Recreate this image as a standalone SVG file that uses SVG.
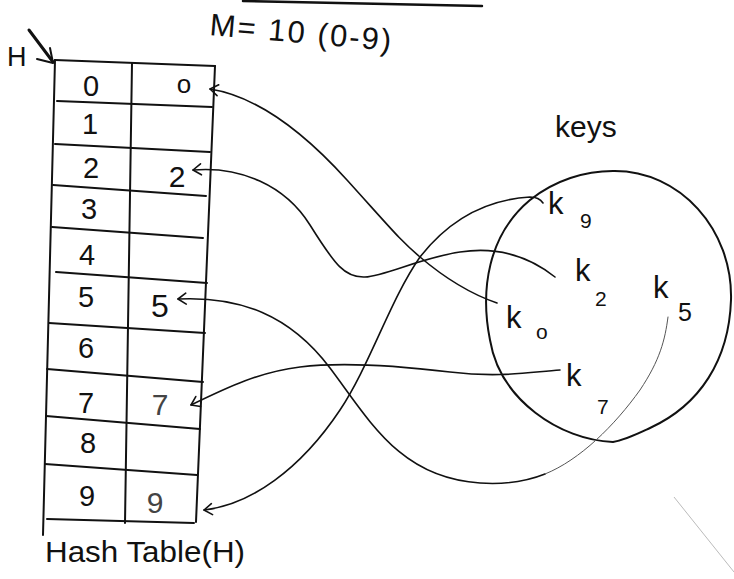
<svg xmlns="http://www.w3.org/2000/svg" width="734" height="579" viewBox="0 0 734 579">
<style>
  .ink { fill: none; stroke: #111; stroke-linecap: round; stroke-linejoin: round; }
  .grid { stroke-width: 2; }
  .curve { stroke-width: 1.6; }
  .faint { stroke: #555; stroke-width: 1; }
  .txt { font-family: "Liberation Sans", "DejaVu Sans", sans-serif; fill: #111; }
  .num { font-size: 29px; text-anchor: middle; }
  .key { font-size: 31px; }
  .sub { font-size: 21px; }
  .gray { fill: #444; }
</style>
<defs>
  <marker id="chev" viewBox="-2 -7 12 14" refX="0" refY="0" markerWidth="12" markerHeight="14" markerUnits="userSpaceOnUse" orient="auto">
    <path d="M8,-5.5 L0,0 L8,5.5" fill="none" stroke="#111" stroke-width="1.6" stroke-linecap="round" stroke-linejoin="round"/>
  </marker>
</defs>
<rect width="734" height="579" fill="#fff"/>

<!-- page edge line at top -->
<path class="ink" d="M243,1 L482,6" stroke-width="2.5"/>
<!-- faint page artifact -->
<path d="M674,497 L734,572" stroke="#bbb" stroke-width="1" fill="none"/>

<!-- title -->
<g id="title">
  <text class="txt" x="209" y="35" font-size="31" textLength="182" lengthAdjust="spacing" transform="rotate(5 209 35)">M= 10 (0-9)</text>
</g>

<!-- H pointer -->
<g id="h-pointer">
  <text class="txt" x="7" y="66" font-size="27">H</text>
  <path class="ink" d="M29,30 L53,62" stroke-width="3"/>
  <path class="ink" d="M37,59 L53,63 L50,48" stroke-width="2"/>
</g>

<!-- hash table -->
<g id="hash-table">
  <g class="ink grid">
    <path d="M55,60 L43,535"/>
    <path d="M132,63 L125,523"/>
    <path d="M215,66 L196,522"/>
    <path d="M55,60 L215,66"/>
    <path d="M57,101 L212,107"/>
    <path d="M55,144 L210,152"/>
    <path d="M53,185 L206,196"/>
    <path d="M52,227 L203,238"/>
    <path d="M56,272 L207,283"/>
    <path d="M49,323 L205,333"/>
    <path d="M47,369 L203,382"/>
    <path d="M46,416 L200,429"/>
    <path d="M45,464 L197,475"/>
    <path d="M47,519 L194,523"/>
  </g>
  <g class="txt num">
    <text x="91" y="96">0</text>
    <text x="90" y="134">1</text>
    <text x="91" y="178">2</text>
    <text x="89" y="219">3</text>
    <text x="87" y="265">4</text>
    <text x="86" y="307">5</text>
    <text x="86" y="358">6</text>
    <text x="86" y="413">7</text>
    <text x="88" y="453">8</text>
    <text x="87" y="506">9</text>
  </g>
  <g class="txt" text-anchor="middle">
    <text x="184" y="93" font-size="26">o</text>
    <text x="177" y="187" font-size="30">2</text>
    <text x="160" y="317" font-size="32">5</text>
    <text x="160" y="415" font-size="30" class="gray">7</text>
    <text x="155" y="513" font-size="30" class="gray">9</text>
  </g>
  <text class="txt" x="45" y="562" font-size="29" textLength="200" lengthAdjust="spacingAndGlyphs">Hash Table(H)</text>
</g>

<!-- keys set -->
<g id="keys-set">
  <text class="txt" x="555" y="137" font-size="30">keys</text>
  <path class="ink" d="M613,171 C680,170 733,230 731,300 C729,360 700,405 650,428 C635,435 625,440 613,442 C560,440 500,400 490,340 C480,290 488,235 530,200 C555,180 585,171 613,171 Z" stroke-width="2"/>
</g>

<g id="key-k9">
  <text class="txt key" x="548" y="214">k</text>
  <text class="txt sub" x="580" y="228">9</text>
</g>
<g id="key-k2">
  <text class="txt key" x="575" y="281">k</text>
  <text class="txt sub" x="595" y="306">2</text>
</g>
<g id="key-k5">
  <text class="txt key" x="653" y="298">k</text>
  <text class="txt" x="678" y="321" font-size="25">5</text>
</g>
<g id="key-k0">
  <text class="txt key" x="506" y="328">k</text>
  <text class="txt sub" x="536" y="339">o</text>
</g>
<g id="key-k7">
  <text class="txt key" x="566" y="386">k</text>
  <text class="txt sub" x="597" y="414">7</text>
</g>

<!-- connectors -->
<g id="connectors" class="ink curve">
  <path id="c-k0" marker-start="url(#chev)" d="M210,89 C255,96 300,128 347,180 S 400,240 420,257 S 465,292 497,303"/>
  <path id="c-k2" marker-start="url(#chev)" d="M193,170 C240,166 285,185 310,225 S 345,278 365,277 S 420,258 460,252 S 530,257 555,277"/>
  <path id="c-k5" marker-start="url(#chev)" d="M178,299 C240,296 290,315 330,368 S 400,478 480,483 C510,485 530,480 545,474"/>
  <path id="c-k5-faint" class="faint" d="M545,474 C580,460 615,425 640,390 C660,360 665,340 668,317"/>
  <path id="c-k7" marker-start="url(#chev)" d="M191,405 C230,386 260,372 300,367 S 400,366 450,372 S 530,372 560,370"/>
  <path id="c-k9" marker-start="url(#chev)" d="M204,510 C250,505 300,470 340,410 C370,365 390,300 420,257 C445,225 480,200 530,197 C537,197 541,200 543,203"/>
</g>
</svg>
